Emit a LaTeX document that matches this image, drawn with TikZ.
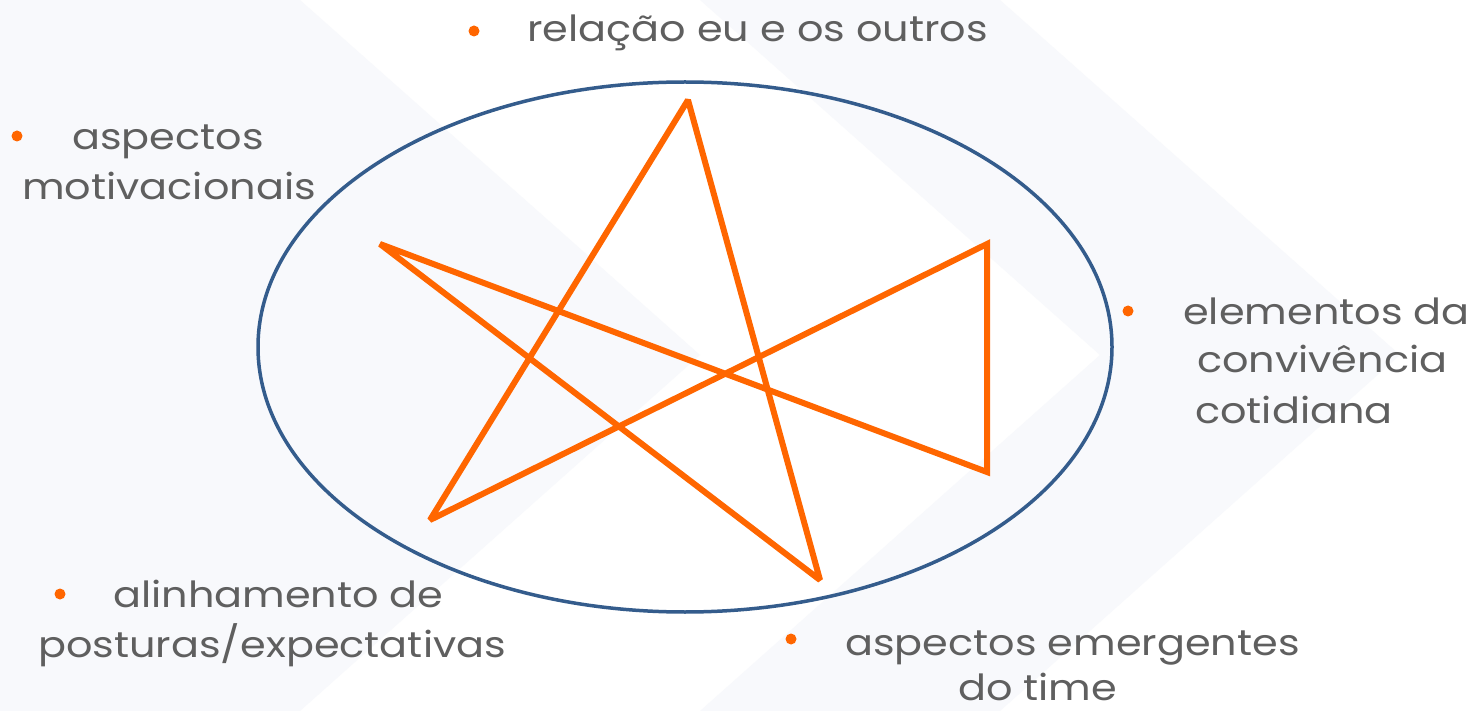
\documentclass[tikz,border=0pt]{standalone}
\usepackage{fontspec}
\usetikzlibrary{shapes.geometric}
\setmainfont{Poppins}[FakeStretch=1.15]
\definecolor{txtgray}{HTML}{5F5F5F}
\definecolor{orng}{HTML}{FF6600}
\definecolor{ellblue}{HTML}{345C8C}
\definecolor{bgfaint}{HTML}{F8F9FC}
\begin{document}
\begin{tikzpicture}[x=1pt,y=-1pt,
  lbl/.style={anchor=base west,inner sep=0pt,text=txtgray,font=\fontsize{36}{44}\selectfont},
  bul/.style={circle,fill=orng,inner sep=0pt,minimum size=11pt},
  starline/.style={draw=orng,line width=6pt,line join=miter,miter limit=2.5},
]
\useasboundingbox (0,0) rectangle (1484,711);
\fill[white] (0,0) rectangle (1484,711);
% faint chevron watermark
\fill[bgfaint] (0,0) -- (300,0) -- (700,355) -- (300,711) -- (0,711) -- cycle;
\fill[bgfaint] (700,0) -- (1000,0) -- (1400,355) -- (1000,711) -- (700,711) -- (1100,355) -- cycle;
% ellipse
\node[draw=ellblue,line width=3.5pt,ellipse,minimum width=854pt,minimum height=530pt,inner sep=0pt] (ell) at (685,347) {};
% star
\coordinate (A) at (688,100);
\coordinate (B) at (820,580);
\coordinate (C) at (380,244);
\coordinate (E) at (987,472);
\coordinate (D) at (987,244);
\coordinate (F) at (430,520);
\draw[starline] (A) -- (B) -- (C) -- (E) -- (D) -- (F) -- cycle;
% bullets
\node[bul] (b1) at (474,31) {};
\node[bul] (b2) at (17,136) {};
\node[bul] (b3) at (1128,311) {};
\node[bul] (b4) at (60,594) {};
\node[bul] (b5) at (791,639) {};
% labels
\node[lbl] (t1) at (527,42) {relação eu e os outros};
\node[lbl] (t2a) at (72,150) {aspectos};
\node[lbl] (t2b) at (22,200) {motivacionais};
\node[lbl] (t3a) at (1183,325) {elementos da};
\node[lbl] (t3b) at (1197,373) {convivência};
\node[lbl] (t3c) at (1195,423) {cotidiana};
\node[lbl] (t4a) at (113,607) {alinhamento de};
\node[lbl] (t4b) at (38,657) {posturas/expectativas};
\node[lbl] (t5a) at (845,655) {aspectos emergentes};
\node[lbl] (t5b) at (958,700) {do time};
\end{tikzpicture}
\end{document}
